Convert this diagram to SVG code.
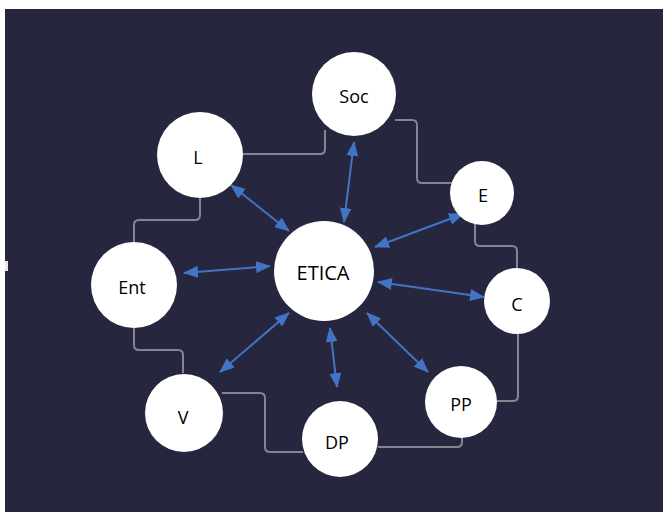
<svg xmlns="http://www.w3.org/2000/svg" width="663" height="512" viewBox="0 0 663 512">
<style>
.node circle{fill:#ffffff}
.node text{font-family:"Open Sans","Liberation Sans",sans-serif;font-size:18px;fill:#000000;text-anchor:middle;dominant-baseline:central}
.link{fill:none;stroke:#85858f;stroke-width:2}
.arr{fill:none;stroke:#4274c4;stroke-width:2;marker-start:url(#ah);marker-end:url(#ah)}
</style>
<defs>
<marker id="ah" viewBox="0 0 15 12" refX="14" refY="6" markerWidth="15" markerHeight="12" markerUnits="userSpaceOnUse" orient="auto-start-reverse">
<path d="M0,0 L15,6 L0,12 z" fill="#4274c4"/>
</marker>
</defs>
<rect x="0" y="0" width="663" height="512" fill="#ffffff"/>
<rect x="5" y="9" width="658" height="503" fill="#26263f"/>
<rect x="5" y="261" width="3" height="10" fill="#e8e8e8"/>
<g id="connectors">
<path class="link" d="M243,154 H320 q5,0 5,-5 V130"/>
<path class="link" d="M395,120 H412 q5,0 5,5 V178 q0,5 5,5 H452"/>
<path class="link" d="M475,223 V241 q0,5 5,5 H512 q5,0 5,5 V268"/>
<path class="link" d="M518,334 V396 q0,5 -5,5 H497"/>
<path class="link" d="M462,437 V442 q0,5 -5,5 H378"/>
<path class="link" d="M303,452 H270 q-5,0 -5,-5 V398 q0,-5 -5,-5 H222"/>
<path class="link" d="M183,373 V355 q0,-5 -5,-5 H139 q-5,0 -5,-5 V328"/>
<path class="link" d="M134,243 V225 q0,-5 5,-5 H195 q5,0 5,-5 V197"/>
<path class="arr" d="M231,185 L289,231"/>
<path class="arr" d="M354,142 L344,222"/>
<path class="arr" d="M184,273 L270,266"/>
<path class="arr" d="M463,214 L375,247"/>
<path class="arr" d="M378,282 L484,297"/>
<path class="arr" d="M367,313 L428,372"/>
<path class="arr" d="M330,328 L337,387"/>
<path class="arr" d="M289,313 L220,372"/>
</g>
<g id="soc" class="node"><circle cx="354" cy="94" r="42"/><text x="354" y="96">Soc</text></g>
<g id="l" class="node"><circle cx="200" cy="155" r="43"/><text x="198" y="157">L</text></g>
<g id="e" class="node"><circle cx="482" cy="193" r="32"/><text x="483" y="195">E</text></g>
<g id="ent" class="node"><circle cx="134" cy="285" r="43"/><text x="132" y="287">Ent</text></g>
<g id="etica" class="node"><circle cx="324" cy="271" r="50"/><text x="323" y="272" style="font-size:20px">ETICA</text></g>
<g id="c" class="node"><circle cx="517" cy="301" r="33"/><text x="517" y="304">C</text></g>
<g id="v" class="node"><circle cx="184" cy="413" r="39"/><text x="183" y="417">V</text></g>
<g id="dp" class="node"><circle cx="340" cy="439" r="38"/><text x="337" y="442">DP</text></g>
<g id="pp" class="node"><circle cx="461" cy="402" r="36"/><text x="461" y="404">PP</text></g>
</svg>
